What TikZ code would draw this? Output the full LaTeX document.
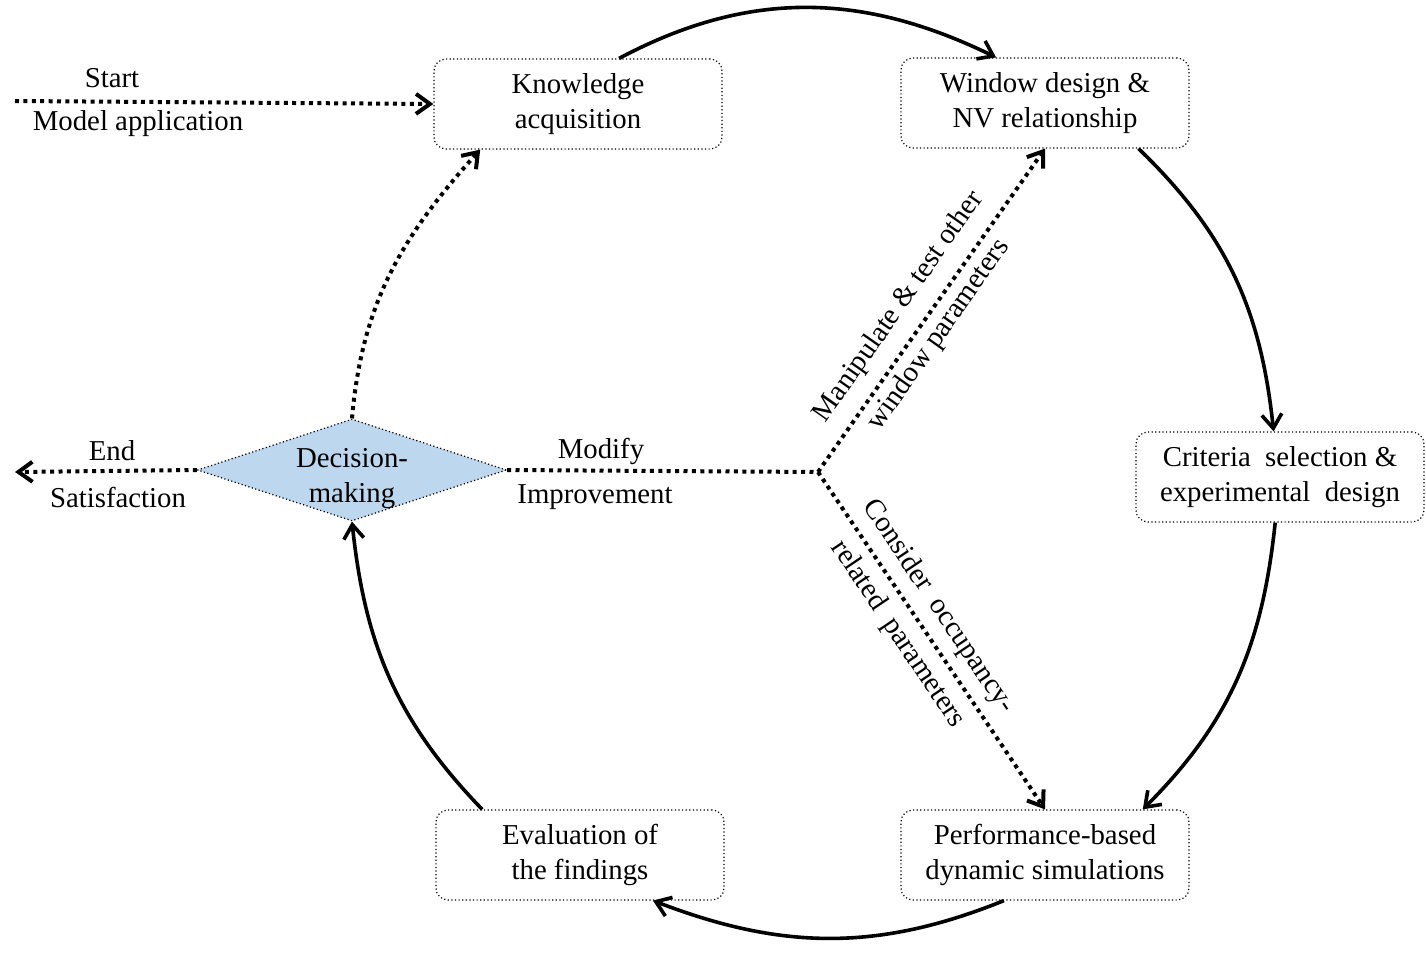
\documentclass[tikz,border=0pt]{standalone}
\usepackage{fontspec}
\setmainfont{Liberation Serif}
\usetikzlibrary{arrows.meta,shapes.geometric}
\definecolor{dfill}{HTML}{BDD7EE}
\begin{document}
\begin{tikzpicture}[x=0.5pt,y=0.5pt,
  every node/.style={font=\fontsize{14.4}{17.5}\selectfont},
  box/.style={draw, rounded corners=6pt, line width=0.6pt, dash pattern=on 0.6pt off 1.2pt,
    minimum width=144pt, minimum height=45pt, align=center, inner sep=0pt},
  tipped/.style={-{Straight Barb[length=7pt,width=10pt]}},
  solidarc/.style={line width=1.8pt, tipped},
  dotline/.style={line width=2pt, dash pattern=on 2pt off 2.2pt},
  dec/.style={diamond, draw, fill=dfill, line width=0.6pt, dash pattern=on 0.6pt off 1.2pt,
    inner sep=0pt, minimum width=154.5pt, minimum height=51pt},
  lab/.style={inner sep=1pt},
  slab/.style={sloped, align=center, inner sep=0pt}
]
\useasboundingbox (0,0) rectangle (1426,-953);

% nodes
\node[box] (K) at (578,-104) {Knowledge\\acquisition};
\node[box] (W) at (1045,-103) {Window design \&\\NV relationship};
\node[box] (C) at (1280,-477) {Criteria\ \ selection \&\\experimental\ \ design};
\node[box] (P) at (1045,-855) {Performance-based\\dynamic simulations};
\node[box] (E) at (580,-855) {Evaluation of\\the findings};
\node[dec, label={[align=center, yshift=-4.5pt]center:Decision-\\making}] (D) at (352,-470) {};

\coordinate (S) at (15,-101);
\coordinate (X) at (15,-472);
\coordinate (J) at (818,-472);

% labels
\node[lab] (lstart) at (112,-78) {Start};
\node[lab] (lmodel) at (138,-124) {Model application};
\node[lab] (lend) at (112,-451) {End};
\node[lab] (lsat) at (118,-497) {Satisfaction};
\node[lab] (lmod) at (601,-451) {Modify};
\node[lab] (limp) at (595,-497) {Improvement};

% dotted connectors
\draw[dotline, tipped] (S) -- (K.west);
\draw[dotline, tipped] (D.west) -- (X);
\draw[dotline] (D.east) -- (J);
\draw[dotline, tipped] (J) -- node[slab, pos=0.46, yshift=2pt] {Manipulate \& test other\\[7pt]window parameters} (W.south);
\draw[dotline, tipped] (J) -- node[slab, pos=0.44] {Consider\ \ occupancy-\\[7pt]related\ \ parameters} (P.north);
\draw[dotline, tipped] (D.north) to[out=85, in=228] (K.205);

% solid cycle arcs
\draw[solidarc] (K.48) to[out=28, in=154] (W.137);
\draw[solidarc] (W.-26) to[out=-44, in=96] (C.98);
\draw[solidarc] (C.264) to[out=-96, in=45] (P.25);
\draw[solidarc] (P.228) to[out=-158, in=-21] (E.-32);
\draw[solidarc] (E.155) to[out=134, in=-84] (D.south);
\end{tikzpicture}
\end{document}
